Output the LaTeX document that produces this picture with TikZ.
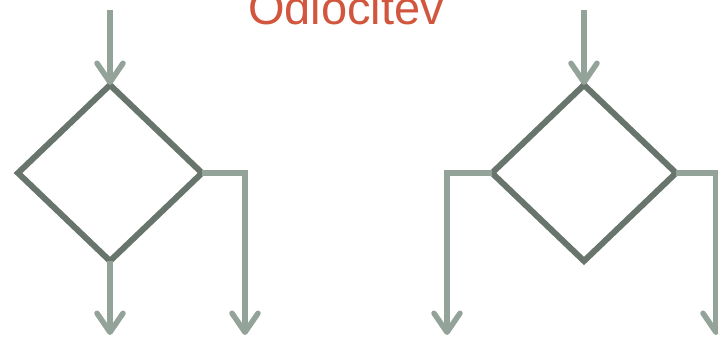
\documentclass[tikz,border=0pt]{standalone}
\usepackage{fontspec}
\setsansfont{Liberation Sans}
\usetikzlibrary{arrows.meta}
\usetikzlibrary{shapes.geometric,positioning}

\definecolor{naslovrdeca}{RGB}{210,86,62}
\definecolor{robtemna}{RGB}{104,117,108}
\definecolor{tokzelena}{RGB}{148,163,153}

\tikzset{
  odlocitev/.style={diamond,draw=robtemna,line width=6pt,
    minimum width=184pt,minimum height=176pt,inner sep=0pt,outer sep=0pt},
  tok/.style={draw=tokzelena,line width=5.5pt,
    -{Straight Barb[length=19pt,width=26pt,round]}},
  naslov/.style={font=\sffamily\fontsize{47}{50}\selectfont,
    text=naslovrdeca,anchor=base,inner sep=0pt}
}

\begin{document}
\begin{tikzpicture}[x=1pt,y=-1pt]

  \clip (0,0) rectangle (718,337);
  \useasboundingbox (0,0) rectangle (718,337);

  \node[naslov] (naslov) at (346,25) {Odlocitev};

  % levi odlocitveni blok
  \node[odlocitev] (levi) at (110,173) {};
  \coordinate (levivhod) at (110,10);
  \coordinate (levidol) at (110,335);
  \coordinate (levidesno) at (245,335);

  \draw[tok] (levivhod) -- (levi.north);
  \draw[tok] (levi.south) -- (levidol);
  \draw[tok] (levi.east) -| (levidesno);

  % desni odlocitveni blok
  \node[odlocitev] (desni) at (584,173) {};
  \coordinate (desnivhod) at (584,10);
  \coordinate (desnilevo) at (447,335);
  \coordinate (desnidesno) at (716,335);

  \draw[tok] (desnivhod) -- (desni.north);
  \draw[tok] (desni.west) -| (desnilevo);
  \draw[tok] (desni.east) -| (desnidesno);

\end{tikzpicture}
\end{document}
